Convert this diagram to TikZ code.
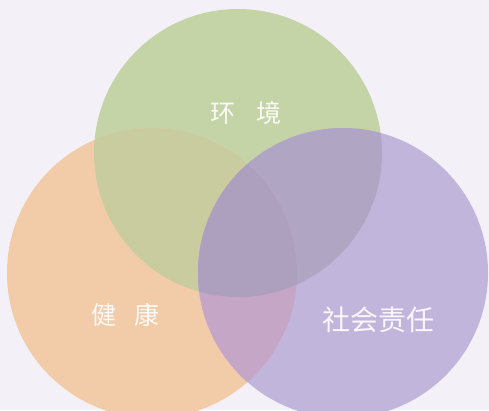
\documentclass[tikz,border=0pt]{standalone}
\usepackage{fontspec}
\newfontfamily\cjk{Noto Sans CJK SC}
\definecolor{bgc}{RGB}{243,241,247}
\definecolor{grn}{RGB}{197,212,166}
\definecolor{org}{RGB}{242,203,168}
\definecolor{pur}{RGB}{194,181,220}
\definecolor{go}{RGB}{200,204,158}
\definecolor{gp}{RGB}{176,166,196}
\definecolor{op}{RGB}{198,166,198}
\definecolor{gop}{RGB}{172,160,190}
\tikzset{
  lbl/.style={text=white, text opacity=0.9, font=\cjk\fontsize{25}{29}\selectfont, inner sep=0pt},
  lblbig/.style={lbl, font=\cjk\fontsize{28}{33}\selectfont}
}
\def\GC{(238,153) circle (144)}
\def\OC{(152,273) circle (145)}
\def\PC{(343,273) circle (145)}
\begin{document}
\begin{tikzpicture}[x=1pt,y=-1pt]
\fill[bgc] (0,0) rectangle (489,410);
\useasboundingbox (0,0) rectangle (489,410);
\begin{scope}
\clip (0,0) rectangle (489,410);
\fill[grn] \GC;
\fill[org] \OC;
\fill[pur] \PC;
\begin{scope}\clip \GC; \fill[go] \OC; \end{scope}
\begin{scope}\clip \GC; \fill[gp] \PC; \end{scope}
\begin{scope}\clip \OC; \fill[op] \PC; \end{scope}
\begin{scope}\clip \GC; \clip \OC; \fill[gop] \PC; \end{scope}
\end{scope}
\node[lbl] (env) at (246,113) {环\hspace{21pt}境};
\node[lbl] (hea) at (125,315) {健\hspace{18pt}康};
\node[lblbig] (soc) at (378.5,319.5) {社会责任};
\end{tikzpicture}
\end{document}
